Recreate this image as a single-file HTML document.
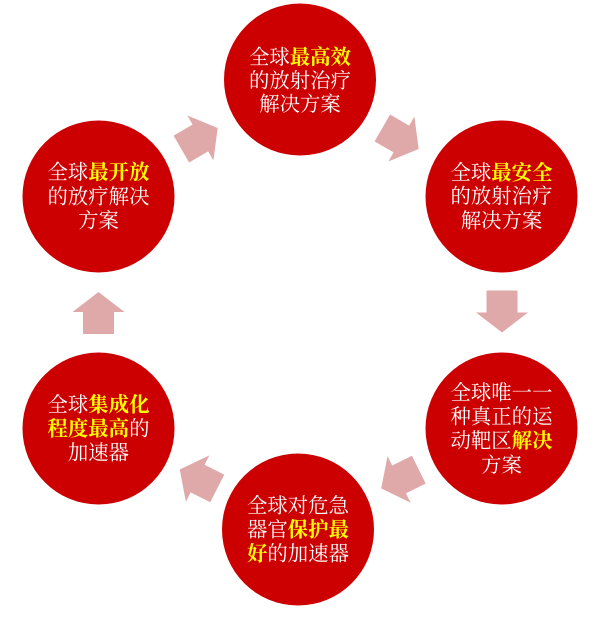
<!DOCTYPE html>
<html><head><meta charset="utf-8"><style>
html,body{margin:0;padding:0;background:#fff;}
svg{display:block;}
text{font-family:"Liberation Serif","Noto Serif CJK SC","Noto Sans CJK SC",serif;font-size:20.4px;fill:#fff;}
.y{fill:#ffff00;font-weight:bold;}
</style></head><body>
<svg width="600" height="623" viewBox="0 0 600 623" xmlns="http://www.w3.org/2000/svg">
<defs>
<polygon id="ar" points="-21,-15.5 1,-15.5 1,-26 21,0 1,26 1,15.5 -21,15.5" fill="#e0a9a9"/>
</defs>
<use href="#ar" transform="translate(199.5,138.5) rotate(-30.1)"/>
<use href="#ar" transform="translate(400.5,138.5) rotate(30.1)"/>
<use href="#ar" transform="translate(502,311.5) rotate(90)"/>
<use href="#ar" transform="translate(400,479) rotate(153.6)"/>
<use href="#ar" transform="translate(198.5,479) rotate(206.8)"/>
<use href="#ar" transform="translate(98.5,313) rotate(-90)"/>

<g fill="#cc0000">
<circle cx="300" cy="79.5" r="76"/>
<circle cx="501.5" cy="196.5" r="76"/>
<circle cx="501.5" cy="428.5" r="76"/>
<circle cx="298" cy="529.5" r="76"/>
<circle cx="98.5" cy="428.5" r="76"/>
<circle cx="98.5" cy="196.5" r="76"/>
</g>

<g text-anchor="middle">
<text x="300" y="64">全球<tspan class="y">最高效</tspan></text>
<text x="300" y="87.5">的放射治疗</text>
<text x="300" y="111">解决方案</text>

<text x="501.5" y="179.5">全球<tspan class="y">最安全</tspan></text>
<text x="501.5" y="203">的放射治疗</text>
<text x="501.5" y="227.5">解决方案</text>

<text x="501.5" y="399.5">全球唯一一</text>
<text x="501.5" y="423.5">种真正的运</text>
<text x="501.5" y="447.5">动靶区<tspan class="y">解决</tspan></text>
<text x="501.5" y="472">方案</text>

<text x="298" y="512.5">全球对危急</text>
<text x="298" y="536.5">器官<tspan class="y">保护最</tspan></text>
<text x="298" y="560.5"><tspan class="y">好</tspan>的加速器</text>

<text x="98.5" y="411.5">全球<tspan class="y">集成化</tspan></text>
<text x="98.5" y="435.5"><tspan class="y">程度最高</tspan>的</text>
<text x="98.5" y="459.5">加速器</text>

<text x="98.5" y="179">全球<tspan class="y">最开放</tspan></text>
<text x="98.5" y="203.5">的放疗解决</text>
<text x="98.5" y="227.5">方案</text>
</g>
</svg>
</body></html>
